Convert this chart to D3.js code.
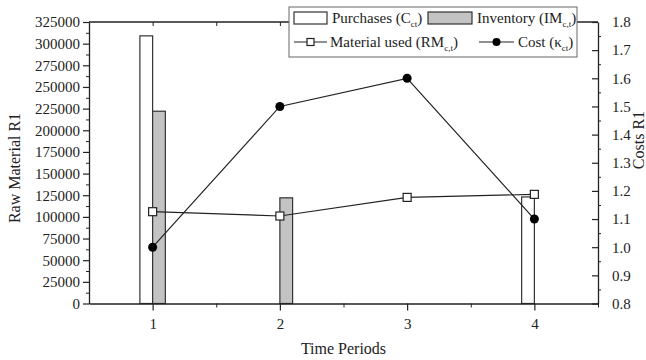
<!DOCTYPE html>
<html>
<head>
<meta charset="utf-8">
<title>Raw Material R1</title>
<style>
  * { margin: 0; padding: 0; }
  body { background: #fff; }
  svg { display: block; }
  svg text { font-family: "Liberation Serif", "Times New Roman", Times, serif !important; }
</style>
</head>
<body>
<svg id="chart" width="646" height="360"></svg>
<script src="https://cdn.jsdelivr.net/npm/d3@7"></script>
<script>
// data
const periods = [1, 2, 3, 4];
const purchases = [309000, 0, 0, 123000];
const inventory = [222000, 122000, 0, 0];
const materialUsed = [106000, 101000, 122500, 126000];
const cost = [1.0, 1.5, 1.6, 1.1];
const leftTicks = d3.range(0, 325001, 25000);
const rightTicks = [0.8, 0.9, 1.0, 1.1, 1.2, 1.3, 1.4, 1.5, 1.6, 1.7, 1.8];

const svg = d3.select("#chart");
const plot = { left: 89, right: 598, top: 22, bottom: 303.5 };

const x = d3.scaleLinear().domain([0.5, 4.5]).range([plot.left, plot.right]);
const y = d3.scaleLinear().domain([0, 325000]).range([plot.bottom, plot.top]);
const y2 = d3.scaleLinear().domain([0.8, 1.8]).range([plot.bottom, plot.top]);
const barW = x(1.1) - x(1);

// bars
const g = svg.append("g");
g.selectAll("rect.purch").data(periods).join("rect")
  .attr("x", d => x(d) - barW)
  .attr("y", (d, i) => y(purchases[i]))
  .attr("width", barW)
  .attr("height", (d, i) => y(0) - y(purchases[i]))
  .attr("fill", "#fff").attr("stroke", "#333").attr("stroke-width", 1.2)
  .style("display", (d, i) => purchases[i] > 0 ? null : "none");
g.selectAll("rect.inv").data(periods).join("rect")
  .attr("x", d => x(d))
  .attr("y", (d, i) => y(inventory[i]))
  .attr("width", barW)
  .attr("height", (d, i) => y(0) - y(inventory[i]))
  .attr("fill", "#c3c3c3").attr("stroke", "#333").attr("stroke-width", 1.2)
  .style("display", (d, i) => inventory[i] > 0 ? null : "none");

// frame lines
svg.append("line").attr("x1", plot.left).attr("x2", plot.right)
  .attr("y1", plot.top).attr("y2", plot.top).attr("stroke", "#222").attr("stroke-width", 1.3);

// axes
const axStyle = sel => {
  sel.attr("font-family", null);
  sel.select(".domain").attr("stroke", "#222").attr("stroke-width", 1.3);
  sel.selectAll(".tick line").attr("stroke", "#222").attr("stroke-width", 1.2);
  sel.selectAll("text").attr("fill", "#222").style("font-size", "15px");
};

const leftAx = svg.append("g").attr("transform", `translate(${plot.left},0)`)
  .call(d3.axisLeft(y).tickValues(leftTicks).tickSize(6).tickSizeOuter(0).tickPadding(3).tickFormat(d3.format("d")));
leftAx.call(axStyle);
svg.append("g").attr("transform", `translate(${plot.left},0)`)
  .call(d3.axisLeft(y).tickValues(d3.range(12500, 325000, 25000)).tickSize(3).tickFormat(""))
  .call(s => s.select(".domain").remove())
  .selectAll("line").attr("stroke", "#222");

const rightAx = svg.append("g").attr("transform", `translate(${plot.right},0)`)
  .call(d3.axisRight(y2).tickValues(rightTicks).tickSize(-6).tickSizeOuter(0).tickPadding(14).tickFormat(d3.format(".1f")));
rightAx.call(axStyle);
svg.append("g").attr("transform", `translate(${plot.right},0)`)
  .call(d3.axisRight(y2).tickValues(d3.range(0.85, 1.8, 0.1)).tickSize(3).tickFormat(""))
  .call(s => s.select(".domain").remove())
  .selectAll("line").attr("stroke", "#222");

const bottomAx = svg.append("g").attr("transform", `translate(0,${plot.bottom})`)
  .call(d3.axisBottom(x).tickValues(periods).tickSize(7).tickSizeOuter(0).tickPadding(8).tickFormat(d3.format("d")));
bottomAx.call(axStyle);
svg.append("g").attr("transform", `translate(0,${plot.bottom})`)
  .call(d3.axisBottom(x).tickValues([1.5, 2.5, 3.5, 4.5]).tickSize(4).tickFormat(""))
  .call(s => s.select(".domain").remove())
  .selectAll("line").attr("stroke", "#222");
svg.append("g").attr("transform", `translate(0,${plot.top})`)
  .call(d3.axisTop(x).tickValues([1, 1.5, 2, 2.5, 3, 3.5, 4]).tickSize(-4).tickFormat(""))
  .call(s => s.select(".domain").remove())
  .selectAll("line").attr("stroke", "#222");

// lines
const lineRM = d3.line().x((d, i) => x(periods[i])).y(d => y(d));
const lineK = d3.line().x((d, i) => x(periods[i])).y(d => y2(d));
svg.append("path").attr("d", lineRM(materialUsed)).attr("fill", "none").attr("stroke", "#222").attr("stroke-width", 1.2);
svg.append("path").attr("d", lineK(cost)).attr("fill", "none").attr("stroke", "#222").attr("stroke-width", 1.2);
svg.selectAll("rect.rm").data(materialUsed).join("rect")
  .attr("x", (d, i) => x(periods[i]) - 4).attr("y", d => y(d) - 4)
  .attr("width", 8).attr("height", 8)
  .attr("fill", "#fff").attr("stroke", "#222").attr("stroke-width", 1.2);
svg.selectAll("circle.k").data(cost).join("circle")
  .attr("cx", (d, i) => x(periods[i])).attr("cy", d => y2(d)).attr("r", 4.5)
  .attr("fill", "#000");

// axis titles
svg.append("text").attr("transform", "translate(20,168) rotate(-90)")
  .attr("text-anchor", "middle").style("font-size", "16px").attr("fill", "#222")
  .text("Raw Material R1");
svg.append("text").attr("transform", "translate(644,140) rotate(-90)")
  .attr("text-anchor", "middle").style("font-size", "16px").attr("fill", "#222")
  .text("Costs R1");
svg.append("text").attr("x", x(2.5)).attr("y", 354)
  .attr("text-anchor", "middle").style("font-size", "16px").attr("fill", "#222")
  .text("Time Periods");

// legend
const leg = svg.append("g");
leg.append("rect").attr("x", 289).attr("y", 7).attr("width", 288).attr("height", 50)
  .attr("fill", "#fff").attr("stroke", "#666").attr("stroke-width", 1);
const legText = (xx, yy, main, sub, tail) => {
  const t = leg.append("text").attr("x", xx).attr("y", yy).style("font-size", "15px").attr("fill", "#222");
  t.append("tspan").text(main);
  t.append("tspan").attr("dy", 4).style("font-size", "9px").text(sub);
  t.append("tspan").attr("dy", -4).text(tail);
};
leg.append("rect").attr("x", 294).attr("y", 12).attr("width", 33).attr("height", 12)
  .attr("fill", "#fff").attr("stroke", "#333").attr("stroke-width", 1.2);
legText(332, 23, "Purchases (C", "ct", ")");
leg.append("rect").attr("x", 428).attr("y", 12).attr("width", 44).attr("height", 12)
  .attr("fill", "#c3c3c3").attr("stroke", "#333").attr("stroke-width", 1.2);
legText(477, 23, "Inventory (IM", "c,t", ")");
leg.append("line").attr("x1", 294).attr("x2", 327).attr("y1", 42).attr("y2", 42).attr("stroke", "#222").attr("stroke-width", 1.2);
leg.append("rect").attr("x", 307).attr("y", 38.5).attr("width", 7).attr("height", 7)
  .attr("fill", "#fff").attr("stroke", "#222").attr("stroke-width", 1.2);
legText(330, 47, "Material used (RM", "c,t", ")");
leg.append("line").attr("x1", 479).attr("x2", 514).attr("y1", 42).attr("y2", 42).attr("stroke", "#222").attr("stroke-width", 1.2);
leg.append("circle").attr("cx", 496.5).attr("cy", 42).attr("r", 4).attr("fill", "#000");
legText(518, 47, "Cost (\u03BA", "ct", ")");
</script>
</body>
</html>
